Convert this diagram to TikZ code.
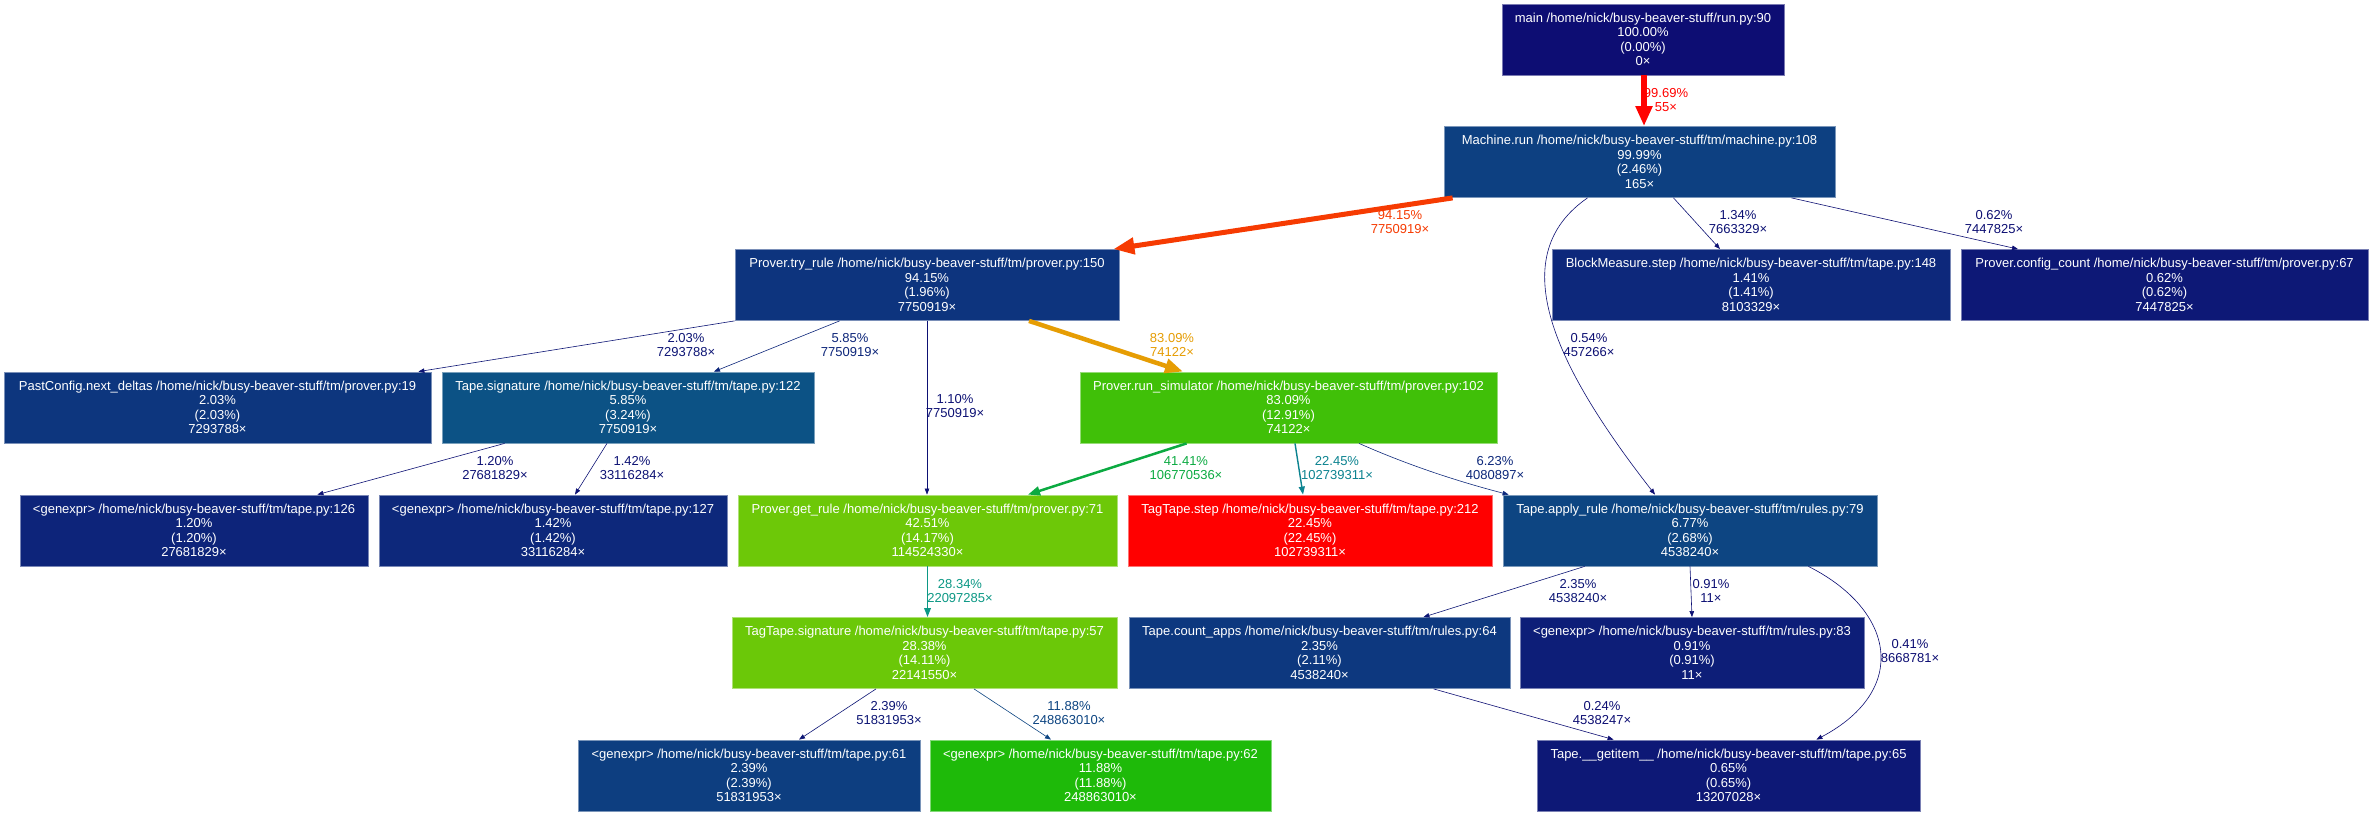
\documentclass[tikz,border=0pt]{standalone}
\usepackage{fontspec}
\setmainfont{Liberation Sans}
\usetikzlibrary{arrows.meta}
% node fills
\definecolor{cMain}{HTML}{0D0D73}
\definecolor{cMr}{HTML}{0D4081}
\definecolor{cTr}{HTML}{0D347E}
\definecolor{cBm}{HTML}{0D287B}
\definecolor{cCc}{HTML}{0D1876}
\definecolor{cPc}{HTML}{0D367E}
\definecolor{cTs}{HTML}{0C5285}
\definecolor{cRs}{HTML}{40C008}
\definecolor{cGa}{HTML}{0D247A}
\definecolor{cGb}{HTML}{0D287B}
\definecolor{cGr}{HTML}{6DC808}
\definecolor{cTst}{HTML}{FF0000}
\definecolor{cAr}{HTML}{0D4582}
\definecolor{cTsig}{HTML}{6BC808}
\definecolor{cCa}{HTML}{0D387F}
\definecolor{cGe}{HTML}{0D1E78}
\definecolor{cGf}{HTML}{0D3E80}
\definecolor{cGg}{HTML}{1EBA09}
\definecolor{cGi}{HTML}{0D1876}
% edge colours
\definecolor{eRed}{HTML}{FF0300}
\definecolor{eOR}{HTML}{F63B02}
\definecolor{eOr}{HTML}{E69D04}
\definecolor{eGr}{HTML}{0BAA41}
\definecolor{eTa}{HTML}{0C9885}
\definecolor{eTb}{HTML}{0C8390}
\definecolor{nA}{HTML}{0D0E73}
\definecolor{nB}{HTML}{0D0F73}
\definecolor{nC}{HTML}{0D1074}
\definecolor{nD}{HTML}{0D1174}
\definecolor{nE}{HTML}{0D1274}
\definecolor{nF}{HTML}{0D1575}
\definecolor{nG}{HTML}{0D1675}
\definecolor{nH}{HTML}{0D267A}
\definecolor{nI}{HTML}{0D287B}
\definecolor{nJ}{HTML}{0D4582}
\begin{document}
\begin{tikzpicture}[x=1pt,y=-1pt,
  box/.style={draw=#1!55!white, fill=#1, line width=0.8pt, text=white, align=center,
    font=\fontsize{13}{14.5}\selectfont, minimum height=71pt, inner sep=2pt},
  lbl/.style={align=center, font=\fontsize{13}{14.5}\selectfont, inner sep=0pt, text=#1},
  thin/.style={draw=#1, line width=0.6pt, -{Triangle[length=6pt,width=4.5pt]}},
]
\fill[white] (0,0) rectangle (2373,816);
\useasboundingbox (0,0) rectangle (2373,816);

% ---------- nodes ----------
\node[box=cMain, minimum width=282pt] (main) at (1643,39.5) {main /home/nick/busy-beaver-stuff/run.py:90\\100.00\%\\(0.00\%)\\0×};
\node[box=cMr, minimum width=391pt] (mr) at (1639.5,162) {Machine.run /home/nick/busy-beaver-stuff/tm/machine.py:108\\99.99\%\\(2.46\%)\\165×};
\node[box=cTr, minimum width=384pt] (tr) at (927,285) {Prover.try\_rule /home/nick/busy-beaver-stuff/tm/prover.py:150\\94.15\%\\(1.96\%)\\7750919×};
\node[box=cBm, minimum width=398pt] (bm) at (1751,285) {BlockMeasure.step /home/nick/busy-beaver-stuff/tm/tape.py:148\\1.41\%\\(1.41\%)\\8103329×};
\node[box=cCc, minimum width=407pt] (cc) at (2164.5,285) {Prover.config\_count /home/nick/busy-beaver-stuff/tm/prover.py:67\\0.62\%\\(0.62\%)\\7447825×};
\node[box=cPc, minimum width=427pt] (pc) at (217.5,407.5) {PastConfig.next\_deltas /home/nick/busy-beaver-stuff/tm/prover.py:19\\2.03\%\\(2.03\%)\\7293788×};
\node[box=cTs, minimum width=372pt] (ts) at (628,407.5) {Tape.signature /home/nick/busy-beaver-stuff/tm/tape.py:122\\5.85\%\\(3.24\%)\\7750919×};
\node[box=cRs, minimum width=417pt] (rs) at (1288.5,407.5) {Prover.run\_simulator /home/nick/busy-beaver-stuff/tm/prover.py:102\\83.09\%\\(12.91\%)\\74122×};
\node[box=cGa, minimum width=348pt] (g126) at (194,530.5) {<genexpr> /home/nick/busy-beaver-stuff/tm/tape.py:126\\1.20\%\\(1.20\%)\\27681829×};
\node[box=cGb, minimum width=348pt] (g127) at (553,530.5) {<genexpr> /home/nick/busy-beaver-stuff/tm/tape.py:127\\1.42\%\\(1.42\%)\\33116284×};
\node[box=cGr, minimum width=379pt] (gr) at (927.5,530.5) {Prover.get\_rule /home/nick/busy-beaver-stuff/tm/prover.py:71\\42.51\%\\(14.17\%)\\114524330×};
\node[box=cTst, minimum width=364pt] (tst) at (1310,530.5) {TagTape.step /home/nick/busy-beaver-stuff/tm/tape.py:212\\22.45\%\\(22.45\%)\\102739311×};
\node[box=cAr, minimum width=374pt] (ar) at (1690,530.5) {Tape.apply\_rule /home/nick/busy-beaver-stuff/tm/rules.py:79\\6.77\%\\(2.68\%)\\4538240×};
\node[box=cTsig, minimum width=385pt] (tsig) at (924.5,653) {TagTape.signature /home/nick/busy-beaver-stuff/tm/tape.py:57\\28.38\%\\(14.11\%)\\22141550×};
\node[box=cCa, minimum width=381pt] (ca) at (1319.5,653) {Tape.count\_apps /home/nick/busy-beaver-stuff/tm/rules.py:64\\2.35\%\\(2.11\%)\\4538240×};
\node[box=cGe, minimum width=344pt] (g83) at (1692,653) {<genexpr> /home/nick/busy-beaver-stuff/tm/rules.py:83\\0.91\%\\(0.91\%)\\11×};
\node[box=cGf, minimum width=342pt] (g61) at (749,775.5) {<genexpr> /home/nick/busy-beaver-stuff/tm/tape.py:61\\2.39\%\\(2.39\%)\\51831953×};
\node[box=cGg, minimum width=341pt] (g62) at (1100.5,775.5) {<genexpr> /home/nick/busy-beaver-stuff/tm/tape.py:62\\11.88\%\\(11.88\%)\\248863010×};
\node[box=cGi, minimum width=383pt] (gi) at (1728.5,775.5) {Tape.\_\_getitem\_\_ /home/nick/busy-beaver-stuff/tm/tape.py:65\\0.65\%\\(0.65\%)\\13207028×};

% ---------- edges ----------
\draw[draw=eRed, line width=5.5pt, -{Triangle[length=20pt,width=16pt]}] ([xshift=1pt]main.south) -- ([xshift=1pt]main.south |- mr.north);
\draw[draw=eOR, line width=5pt, -{Triangle[length=21pt,width=16pt]}] ([xshift=9pt]mr.south west) -- ([xshift=-6pt]tr.north east);
\draw[thin=nB] ([xshift=-52pt]mr.south) .. controls (1505,255) and (1550,360) .. ([xshift=-35pt]ar.north);
\draw[thin=nE] ([xshift=34pt]mr.south) -- ([xshift=-31pt]bm.north);
\draw[thin=nB] ([xshift=152pt]mr.south) -- ([xshift=-146.5pt]cc.north);
\draw[thin=nF] (tr.south west) -- ([xshift=-13pt]pc.north east);
\draw[thin=nH] ([xshift=105pt]tr.south west) -- ([xshift=86pt]ts.north);
\draw[thin=nD] (tr.south) -- (tr.south |- gr.north);
\draw[draw=eOr, line width=4.5pt, -{Triangle[length=18pt,width=14pt]}] ([xshift=102pt]tr.south) -- ([xshift=-105.5pt]rs.north);
\draw[thin=nD] ([xshift=63pt]ts.south west) -- ([xshift=-51pt]g126.north east);
\draw[thin=nE] ([xshift=-21pt]ts.south) -- ([xshift=22pt]g127.north);
\draw[draw=eGr, line width=2.5pt, -{Triangle[length=12pt,width=9pt]}] ([xshift=107pt]rs.south west) -- ([xshift=100.5pt]gr.north);
\draw[draw=eTb, line width=1.4pt, -{Triangle[length=8pt,width=6pt]}] ([xshift=6.5pt]rs.south) -- ([xshift=-7pt]tst.north);
\draw[thin=nI] ([xshift=70.5pt]rs.south) .. controls (1410,466) and (1460,482) .. ([xshift=6pt]ar.north west);
\draw[draw=eTa, line width=1.7pt, -{Triangle[length=9pt,width=6.5pt]}] (gr.south) -- (gr.south |- tsig.north);
\draw[thin=nG] ([xshift=82pt]ar.south west) -- ([xshift=-87pt]ca.north east);
\draw[thin=nC] (ar.south) -- (g83.north);
\draw[thin=nA] ([xshift=-69pt]ar.south east) .. controls (1895,610) and (1910,690) .. ([xshift=-104pt]gi.north east);
\draw[thin=nA] ([xshift=305pt]ca.south west) -- ([xshift=77pt]gi.north west);
\draw[thin=nG] ([xshift=-48.5pt]tsig.south) -- ([xshift=50pt]g61.north);
\draw[thin=nJ] ([xshift=49.5pt]tsig.south) -- ([xshift=-49.5pt]g62.north);

% ---------- edge labels ----------
\node[lbl=eRed] (la) at (1666,100) {99.69\%\\55×};
\node[lbl=eOR] (lb) at (1400,222) {94.15\%\\7750919×};
\node[lbl=nB] (lc) at (1589,345) {0.54\%\\457266×};
\node[lbl=nE] (ld) at (1738,222) {1.34\%\\7663329×};
\node[lbl=nB] (le) at (1994,222) {0.62\%\\7447825×};
\node[lbl=nF] (lf) at (686,345) {2.03\%\\7293788×};
\node[lbl=nH] (lg) at (850,345) {5.85\%\\7750919×};
\node[lbl=nD] (lh) at (955,406) {1.10\%\\7750919×};
\node[lbl=eOr] (li) at (1172,345) {83.09\%\\74122×};
\node[lbl=nD] (lj) at (495,468) {1.20\%\\27681829×};
\node[lbl=nE] (lk) at (632,468) {1.42\%\\33116284×};
\node[lbl=eGr] (ll) at (1186,468) {41.41\%\\106770536×};
\node[lbl=eTb] (lm) at (1337,468) {22.45\%\\102739311×};
\node[lbl=nI] (ln) at (1495,468) {6.23\%\\4080897×};
\node[lbl=eTa] (lo) at (960,591) {28.34\%\\22097285×};
\node[lbl=nG] (lp) at (1578,591) {2.35\%\\4538240×};
\node[lbl=nC] (lq) at (1711,591) {0.91\%\\11×};
\node[lbl=nA] (lr) at (1910,651) {0.41\%\\8668781×};
\node[lbl=nA] (ls) at (1602,713) {0.24\%\\4538247×};
\node[lbl=nG] (lt) at (889,713) {2.39\%\\51831953×};
\node[lbl=nJ] (lu) at (1069,713) {11.88\%\\248863010×};
\end{tikzpicture}
\end{document}
